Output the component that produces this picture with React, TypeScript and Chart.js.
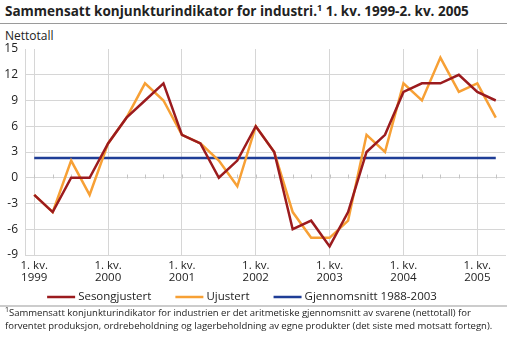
import React, { useEffect, useRef } from "react";
import { Chart, registerables } from "chart.js";
Chart.register(...registerables);

const quarters = [
  "1999K1", "1999K2", "1999K3", "1999K4",
  "2000K1", "2000K2", "2000K3", "2000K4",
  "2001K1", "2001K2", "2001K3", "2001K4",
  "2002K1", "2002K2", "2002K3", "2002K4",
  "2003K1", "2003K2", "2003K3", "2003K4",
  "2004K1", "2004K2", "2004K3", "2004K4",
  "2005K1", "2005K2",
];
const yearLabels = ["1999", "2000", "2001", "2002", "2003", "2004", "2005"];
const quarterPrefix = "1. kv.";

const sesongjustert = [-2, -4, 0, 0, 4, 7, 9, 11, 5, 4, 0, 2, 6, 3, -6, -5, -8, -4, 3, 5, 10, 11, 11, 12, 10, 9];
const ujustert = [-2, -4, 2, -2, 4, 7, 11, 9, 5, 4, 2, -1, 6, 3, -4, -7, -7, -5, 5, 3, 11, 9, 14, 10, 11, 7];
const gjennomsnitt = 2.3;

const yMin = -9;
const yMax = 15;
const yStep = 3;

const RED = "#9b1b1e";
const ORANGE = "#f7a035";
const BLUE = "#1f3d96";
const GRID = "#d6d6d6";
const TEXT = "#222222";
const FONT = "'Open Sans', sans-serif";

const zeroTicksPlugin = {
  id: "zeroTicks",
  beforeDatasetsDraw(chart: any) {
    const xs = chart.scales.x;
    const ys = chart.scales.y;
    const ctx = chart.ctx;
    const y0 = Math.round(ys.getPixelForValue(0)) + 0.5;
    ctx.save();
    ctx.strokeStyle = "#c4c4c4";
    ctx.lineWidth = 1;
    ctx.beginPath();
    for (let i = 0; i < quarters.length; i++) {
      const x = Math.round(xs.getPixelForValue(i)) + 0.5;
      ctx.moveTo(x, y0);
      ctx.lineTo(x, y0 - 4);
    }
    ctx.stroke();
    ctx.restore();
  },
};

const legendPlugin = {
  id: "lineLegend",
  afterDraw(chart: any) {
    const ctx = chart.ctx;
    ctx.save();
    ctx.font = `11.5px ${FONT}`;
    ctx.textBaseline = "middle";
    const lineLen = 28;
    const gap = 3;
    const itemGap = 24;
    const items = chart.data.datasets.map((ds: any) => ({
      label: ds.label,
      color: ds.borderColor,
      w: ctx.measureText(ds.label).width,
    }));
    const total =
      items.reduce((s: number, it: any) => s + lineLen + gap + it.w, 0) +
      itemGap * (items.length - 1);
    let x = 242 - total / 2;
    const y = 297;
    for (const it of items) {
      ctx.strokeStyle = it.color;
      ctx.lineWidth = 2.5;
      ctx.beginPath();
      ctx.moveTo(x, y);
      ctx.lineTo(x + lineLen, y);
      ctx.stroke();
      ctx.fillStyle = TEXT;
      ctx.fillText(it.label, x + lineLen + gap, y);
      x += lineLen + gap + it.w + itemGap;
    }
    ctx.restore();
  },
};

export default function App() {
  const ref = useRef<HTMLCanvasElement>(null);

  useEffect(() => {
    if (!ref.current) return;
    const chart = new Chart(ref.current, {
      type: "line",
      data: {
        labels: quarters,
        datasets: [
          {
            label: "Sesongjustert",
            data: sesongjustert,
            borderColor: RED,
            backgroundColor: RED,
            borderWidth: 2.5,
            pointRadius: 0,
            tension: 0,
          },
          {
            label: "Ujustert",
            data: ujustert,
            borderColor: ORANGE,
            backgroundColor: ORANGE,
            borderWidth: 2.5,
            pointRadius: 0,
            tension: 0,
          },
          {
            label: "Gjennomsnitt 1988-2003",
            data: quarters.map(() => gjennomsnitt),
            borderColor: BLUE,
            backgroundColor: BLUE,
            borderWidth: 2.5,
            pointRadius: 0,
            tension: 0,
          },
        ],
      },
      options: {
        responsive: false,
        animation: false,
        devicePixelRatio: 1,
        layout: { padding: { top: 49, left: 0, right: 2, bottom: 50 } },
        plugins: {
          legend: { display: false },
          tooltip: { enabled: false },
          title: { display: false },
        },
        scales: {
          x: {
            type: "category",
            offset: true,
            grid: {
              offset: false,
              drawTicks: false,
              lineWidth: 1,
              color: (c: any) => (c.index % 4 === 0 ? GRID : "rgba(0,0,0,0)"),
            },
            border: { display: true, color: GRID },
            ticks: {
              autoSkip: false,
              maxRotation: 0,
              minRotation: 0,
              padding: 4,
              color: TEXT,
              font: { family: FONT, size: 11.5, lineHeight: 1.1 },
              callback: (_v: any, i: number) =>
                i % 4 === 0 ? [quarterPrefix, yearLabels[i / 4]] : "",
            },
            afterFit: (s: any) => {
              s.height = 32;
            },
          },
          y: {
            min: yMin,
            max: yMax,
            grid: {
              drawTicks: false,
              lineWidth: 1,
              color: (c: any) => (c.tick && c.tick.value === yMax ? "rgba(0,0,0,0)" : GRID),
            },
            border: { display: true, color: GRID },
            ticks: {
              stepSize: yStep,
              padding: 7,
              color: TEXT,
              font: { family: FONT, size: 12 },
            },
            afterFit: (s: any) => {
              s.width = 25;
            },
          },
        },
      },
      plugins: [zeroTicksPlugin, legendPlugin],
    });
    return () => chart.destroy();
  }, []);

  return (
    <div
      style={{
        position: "absolute",
        left: 0,
        top: 0,
        width: 507,
        height: 337,
        background: "#fff",
        fontFamily: FONT,
        color: TEXT,
        overflow: "hidden",
      }}
    >
      <div
        style={{
          position: "absolute",
          left: 5,
          top: 1,
          fontSize: 13.5,
          fontWeight: 700,
          whiteSpace: "nowrap",
          lineHeight: "20px",
        }}
      >
        Sammensatt konjunkturindikator for industri.
        <sup style={{ fontSize: 9, lineHeight: 0 }}>1</sup> 1. kv. 1999-2. kv. 2005
      </div>
      <div
        style={{
          position: "absolute",
          left: 0,
          top: 23,
          width: 507,
          height: 1,
          background: "#9a9a9a",
        }}
      />
      <div
        style={{
          position: "absolute",
          left: 5,
          top: 28,
          fontSize: 12,
          lineHeight: "16px",
          whiteSpace: "nowrap",
        }}
      >
        Nettotall
      </div>
      <canvas
        ref={ref}
        width={507}
        height={337}
        style={{ position: "absolute", left: 0, top: 0, width: 507, height: 337 }}
      />
      <div
        style={{
          position: "absolute",
          left: 0,
          top: 305,
          width: 507,
          height: 2,
          background: "#cccccc",
        }}
      />
      <div
        style={{
          position: "absolute",
          left: 5,
          top: 307,
          fontSize: 9.5,
          lineHeight: "12.5px",
          whiteSpace: "nowrap",
        }}
      >
        <div>
          <sup style={{ fontSize: 7, lineHeight: 0 }}>1</sup>Sammensatt konjunkturindikator for industrien er det
          aritmetiske gjennomsnitt av svarene (nettotall) for
        </div>
        <div>
          forventet produksjon, ordrebeholdning og lagerbeholdning av egne produkter (det siste med motsatt fortegn).
        </div>
      </div>
    </div>
  );
}
